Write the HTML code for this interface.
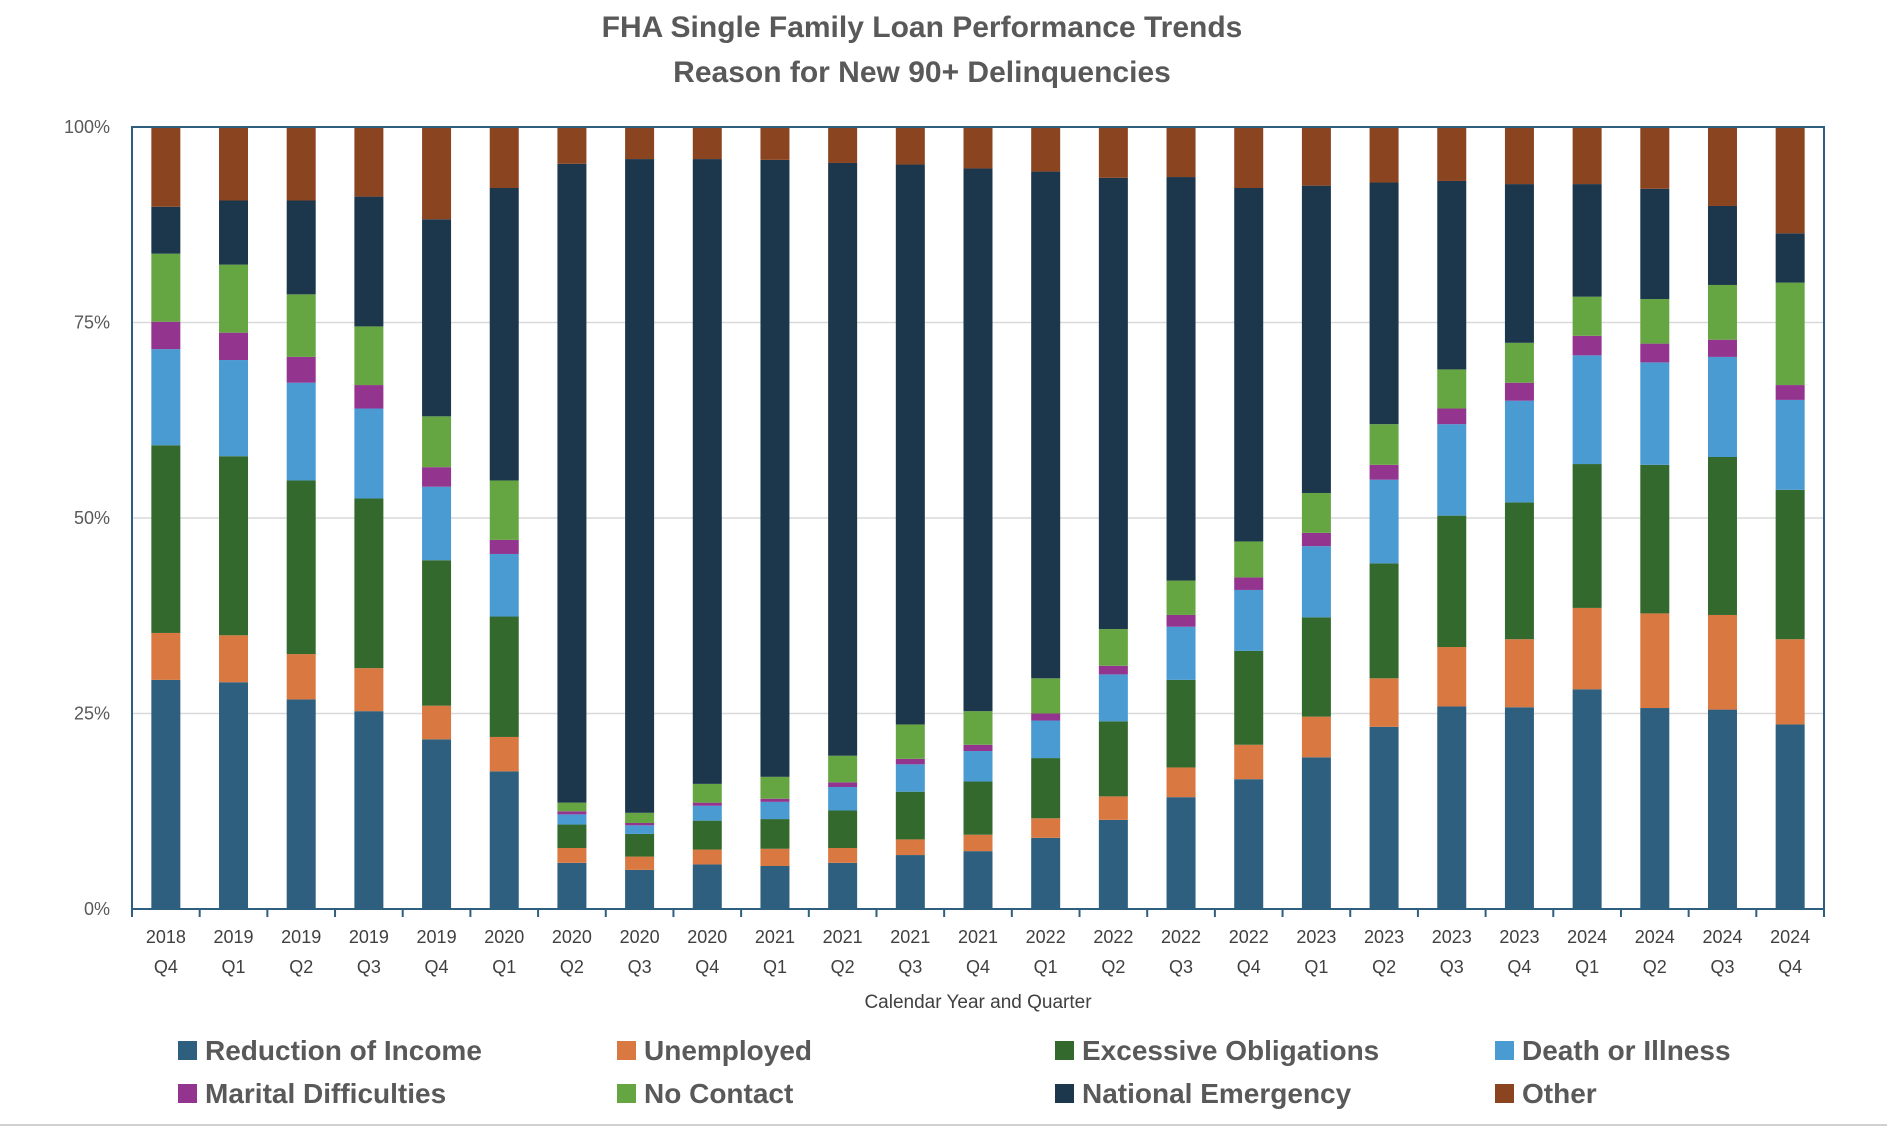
<!DOCTYPE html>
<html><head><meta charset="utf-8"><style>
body{margin:0;background:#fff;width:1887px;height:1127px;overflow:hidden;font-family:"Liberation Sans",sans-serif}
</style></head><body>
<svg id="chart" width="1887" height="1127" xmlns="http://www.w3.org/2000/svg">
<text x="922" y="37" text-anchor="middle" font-size="30" font-weight="bold" fill="#595959" font-family="Liberation Sans, sans-serif">FHA Single Family Loan Performance Trends</text>
<text x="922" y="82" text-anchor="middle" font-size="30" font-weight="bold" fill="#595959" font-family="Liberation Sans, sans-serif">Reason for New 90+ Delinquencies</text>
<g id="grid"></g><g id="bars"></g><g id="axes"></g><g id="legend"></g>
<text x="978" y="1008" text-anchor="middle" font-size="19" fill="#404040">Calendar Year and Quarter</text>
<line x1="0" y1="1125" x2="1887" y2="1125" stroke="#d0d0d0" stroke-width="2"/>
</svg>
<script>
const categories=["2018 Q4","2019 Q1","2019 Q2","2019 Q3","2019 Q4","2020 Q1","2020 Q2","2020 Q3","2020 Q4","2021 Q1","2021 Q2","2021 Q3","2021 Q4","2022 Q1","2022 Q2","2022 Q3","2022 Q4","2023 Q1","2023 Q2","2023 Q3","2023 Q4","2024 Q1","2024 Q2","2024 Q3","2024 Q4"];
const income=[29.3,29,26.8,25.3,21.7,17.6,5.9,5,5.7,5.5,5.9,6.9,7.4,9.1,11.4,14.3,16.6,19.4,23.3,25.9,25.8,28.1,25.7,25.5,23.6];
const unemployed=[6,6,5.8,5.5,4.3,4.4,1.9,1.7,1.9,2.2,1.9,2,2.1,2.5,3,3.8,4.4,5.2,6.2,7.6,8.7,10.4,12.1,12.1,10.9];
const excessive=[24,22.9,22.2,21.7,18.6,15.4,3,2.9,3.7,3.8,4.8,6.1,6.8,7.7,9.6,11.2,12,12.7,14.7,16.8,17.5,18.4,19,20.2,19.1];
const death=[12.3,12.3,12.5,11.5,9.4,8,1.3,1.1,1.9,2.2,3,3.5,3.9,4.8,6,6.8,7.8,9.1,10.7,11.7,13,13.9,13.1,12.8,11.5];
const marital=[3.5,3.5,3.3,3,2.5,1.8,0.4,0.3,0.4,0.4,0.6,0.7,0.8,0.9,1.1,1.5,1.6,1.7,1.9,2,2.3,2.5,2.4,2.2,1.9];
const noContact=[8.7,8.7,8,7.5,6.5,7.6,1.1,1.3,2.4,2.8,3.4,4.4,4.3,4.5,4.7,4.4,4.6,5.1,5.2,5,5.1,5,5.7,7,13.1];
const national=[6,8.2,12,16.6,25.2,37.4,81.7,83.6,79.9,78.9,75.8,71.6,69.4,64.8,57.7,51.6,45.2,39.3,30.9,24.1,20.3,14.4,14.1,10.1,6.3];
const other=[10.2,9.4,9.4,8.9,11.8,7.8,4.7,4.1,4.1,4.2,4.6,4.8,5.3,5.7,6.5,6.4,7.8,7.5,7.1,6.9,7.3,7.3,7.9,10.1,13.6];
const yTicks=[0,25,50,75,100];
const seriesNames=["Reduction of Income","Unemployed","Excessive Obligations","Death or Illness","Marital Difficulties","No Contact","National Emergency","Other"];
const seriesData=[income,unemployed,excessive,death,marital,noContact,national,other];
const colors=["#2e5f7f","#d97941","#34692e","#4a9bd1","#93348f","#66a642","#1c374c","#8b4420"];
const NS="http://www.w3.org/2000/svg";
const L=132,R=1824,T=127,B=909;
const band=(R-L)/categories.length, bw=29;
const y=v=>B-(v/100)*(B-T);
const xc=i=>L+band*(i+0.5);
function mk(tag,attrs,parent){const e=document.createElementNS(NS,tag);for(const k in attrs)e.setAttribute(k,attrs[k]);parent.appendChild(e);return e;}
const grid=document.getElementById('grid'),bars=document.getElementById('bars'),axes=document.getElementById('axes'),legend=document.getElementById('legend');
yTicks.forEach(t=>{
  if(t>0&&t<100){const g=mk('line',{x1:L,x2:R,y1:y(t),y2:y(t),stroke:'#d9d9d9','stroke-width':1.5},grid);
  
  }
  const tx=mk('text',{x:110,y:y(t)+6,'text-anchor':'end','font-size':18,fill:'#595959'},axes);tx.textContent=t+'%';
  
  
});
categories.forEach((c,i)=>{
  let cum=0;
  seriesData.forEach((s,k)=>{
    const v=s[i];
    const r=mk('rect',{x:xc(i)-bw/2,y:y(cum+v),width:bw,height:y(cum)-y(cum+v),fill:colors[k]},bars);
    
    
    cum+=v;
  });
  const parts=c.split(' ');
  const t1=mk('text',{x:xc(i),y:943,'text-anchor':'middle','font-size':18,fill:'#404040'},axes);t1.textContent=parts[0];
  
  
  const t2=mk('text',{x:xc(i),y:973,'text-anchor':'middle','font-size':18,fill:'#404040'},axes);t2.textContent=parts[1];
  
  
});
for(let i=0;i<=categories.length;i++){
  const tk=mk('line',{x1:L+band*i,x2:L+band*i,y1:B,y2:B+8,stroke:'#2e5f7f','stroke-width':2},axes);
  
  
}
const frame=mk('rect',{x:L,y:T,width:R-L,height:B-T,fill:'none',stroke:'#2e5f7f','stroke-width':2},axes);


const lx=[178,617,1055,1495],ly=[1051,1094];
seriesNames.forEach((n,k)=>{
  const gx=lx[k%4],gy=ly[Math.floor(k/4)];
  const g=mk('g',{},legend);
  
  
  mk('rect',{x:gx,y:gy-10,width:19,height:19,fill:colors[k]},g);
  const t=mk('text',{x:gx+27,y:gy+9,'font-size':28,'font-weight':'bold',fill:'#595959'},g);t.textContent=n;
});
</script>
</body></html>
